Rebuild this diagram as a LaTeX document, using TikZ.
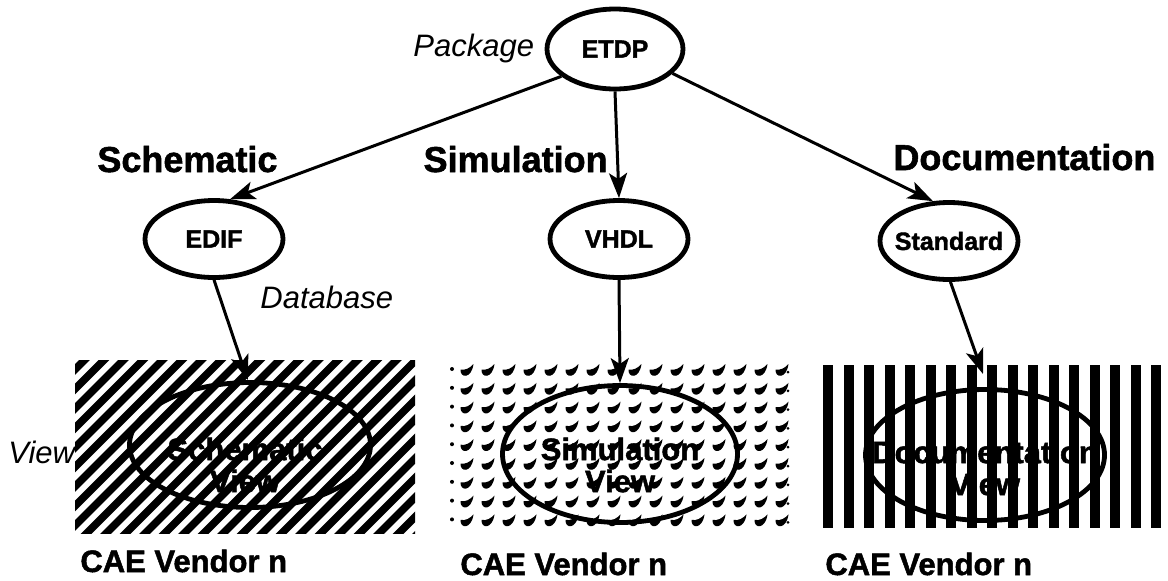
\documentclass[tikz,border=0pt]{standalone}
\usepackage{fontspec}
\setmainfont{Liberation Sans}[BoldFeatures={FakeBold=1.6}]
\usetikzlibrary{shapes.geometric,arrows.meta}

\begin{document}
\begin{tikzpicture}[x=0.5pt,y=-0.5pt,
  oval/.style={ellipse,draw,line width=2.4pt,inner sep=0pt},
  conn/.style={line width=1.5pt,-{Stealth[length=12.5pt,width=9pt,inset=3pt]}},
  head/.style={font=\bfseries\fontsize{18}{20}\selectfont,inner sep=0pt},
  tag/.style={font=\itshape\fontsize{15.5}{18}\selectfont,inner sep=0pt},
  nodetext/.style={font=\bfseries\fontsize{12.5}{14}\selectfont,inner sep=0pt},
  viewtext/.style={font=\bfseries\fontsize{15.5}{16}\selectfont,align=center,inner sep=0pt},
  vendor/.style={font=\bfseries\fontsize{15.5}{18}\selectfont,inner sep=0pt},
  crescent/.pic={\fill (-6.5,-1.5) .. controls (-7,7.5) and (4.5,8) .. (6.5,-7)
                   .. controls (3,-3) and (-1.5,-0.5) .. cycle;}]

\useasboundingbox (0,0) rectangle (1168,580);

% ---- background patterns of the three views ----
% diagonal hatching
\begin{scope}
  \clip (75,360) rectangle (415,533);
  \foreach \k in {-10,...,18}
    \draw[line width=3.8pt] ({75+19.5*\k},545) -- ++(200,-200);
\end{scope}
% crescent dots
\begin{scope}
  \clip (450,363) rectangle (790,536);
  \foreach \i in {0,...,15}
    \foreach \j in {0,...,8}
      \pic at ({467+21*\i},{371+18.8*\j}) {crescent};
  \foreach \j in {0,...,8} {
    \fill ({452},{369+18.8*\j}) circle (2);
    \fill ({788},{372+18.8*\j}) circle (1.5);
  }
\end{scope}
% vertical bars
\foreach \k in {0,...,16}
  \fill ({823+20.5*\k},365) rectangle ++(10,163);

% ---- format nodes ----
\node[oval,minimum width=68pt,minimum height=40pt] (etdp) at (615,49) {};
\node[nodetext] (etdplabel) at (etdp) {ETDP};
\node[oval,minimum width=69pt,minimum height=38.5pt] (edif) at (214,239) {};
\node[nodetext] (ediflabel) at (edif) {EDIF};
\node[oval,minimum width=69pt,minimum height=38.5pt] (vhdl) at (619,239) {};
\node[nodetext] (vhdllabel) at (vhdl) {VHDL};
\node[oval,minimum width=69pt,minimum height=38.5pt] (std) at (949,241) {};
\node[nodetext] (stdlabel) at (std) {Standard};

% ---- view ellipses ----
\node[oval,minimum width=120.5pt,minimum height=62.5pt] (sv) at (250,445) {};
\node[viewtext] (svlabel) at (245,465) {Schematic\\View};
\node[oval,minimum width=117.5pt,minimum height=68.5pt] (mv) at (620,454) {};
\node[viewtext] (mvlabel) at (620,465) {Simulation\\View};
\node[oval,minimum width=119.5pt,minimum height=65.5pt] (dv) at (985,455) {};
\node[viewtext] (dvlabel) at (985,468) {Documentation\\View};
\coordinate (tip3) at (983,374);

% ---- connectors ----
\draw[conn] (etdp.207) -- (edif.68);
\draw[conn] (etdp.south) -- (vhdl.north);
\draw[conn] (etdp.337) -- (std.112);
\draw[conn] (edif.south) -- (sv.92);
\draw[conn] (vhdl.south) -- (mv.north);
\draw[conn] (std.272) -- (tip3);

% ---- labels ----
\node[tag,anchor=base west] (package) at (413,56) {Package};
\node[tag,anchor=base west] (database) at (260,308) {Database};
\node[tag,anchor=base west] (view) at (8,463) {View};
\node[head,anchor=base west] (schem) at (97,172) {Schematic};
\node[head,anchor=base east] (simul) at (608,172) {Simulation};
\node[head,anchor=base west] (docu) at (893,170) {Documentation};
\node[vendor,anchor=base west] (vend1) at (80,572) {CAE Vendor n};
\node[vendor,anchor=base west] (vend2) at (460,575) {CAE Vendor n};
\node[vendor,anchor=base west] (vend3) at (825,575) {CAE Vendor n};
\end{tikzpicture}
\end{document}
